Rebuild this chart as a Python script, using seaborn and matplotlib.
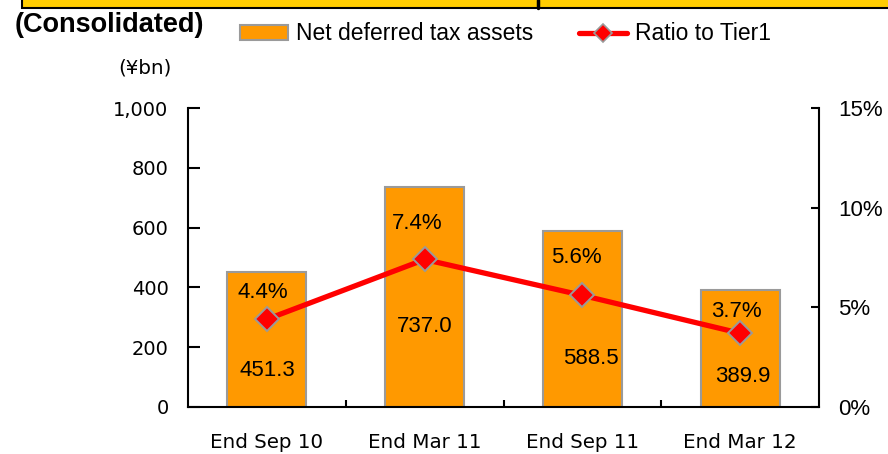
import numpy as np
import pandas as pd
import matplotlib
matplotlib.use("Agg")
import matplotlib.pyplot as plt
from matplotlib.patches import Patch, Rectangle
from matplotlib.lines import Line2D
from matplotlib.ticker import FuncFormatter, FixedLocator
import seaborn as sns

# Data
periods = ["End Sep 10", "End Mar 11", "End Sep 11", "End Mar 12"]
net_dta = [451.3, 737.0, 588.5, 389.9]          # ¥bn
ratio_tier1 = [4.4, 7.4, 5.6, 3.7]              # %
left_ticks = [0, 200, 400, 600, 800, 1000]
right_ticks = [0, 5, 10, 15]

sns.set_style("white")
plt.rcParams["font.family"] = ["DejaVu Sans"]
plt.rcParams["text.color"] = "black"
plt.rcParams["xtick.color"] = "black"
plt.rcParams["ytick.color"] = "black"
plt.rcParams["axes.labelcolor"] = "black"

BAR_COLOR = "#FF9900"
EDGE_GRAY = "#9A9A9A"
LINE_RED = "#FF0000"

df = pd.DataFrame({"period": periods, "dta": net_dta, "ratio": ratio_tier1})
df["pos"] = np.arange(len(df))

fig = plt.figure(figsize=(8.88, 4.54), dpi=100)
W, H = 888, 454
ax = fig.add_axes([188 / W, 1 - 407 / H, (819 - 188) / W, (407 - 108) / H])

sns.barplot(data=df, x="period", y="dta", color=BAR_COLOR, saturation=1,
            edgecolor=EDGE_GRAY, linewidth=1.5, width=0.5, ax=ax)
ax.set_xlim(-0.5, len(df) - 0.5)
ax.set_ylim(0, 1000)
ax.set_xlabel("")
ax.set_ylabel("")

ax2 = ax.twinx()
sns.lineplot(data=df, x="pos", y="ratio", ax=ax2, color=LINE_RED, lw=3.8,
             marker="D", markersize=12, markerfacecolor=LINE_RED,
             markeredgecolor=EDGE_GRAY, markeredgewidth=1.4, zorder=5)
ax2.set_ylim(0, 15)
ax2.set_xlim(-0.5, len(df) - 0.5)
ax2.set_xlabel("")
ax2.set_ylabel("")

# Spines
for a in (ax, ax2):
    for s in a.spines.values():
        s.set_linewidth(1.5)
        s.set_color("black")
    a.spines["top"].set_visible(False)
ax.spines["right"].set_visible(False)
ax2.spines["left"].set_visible(False)
ax2.spines["bottom"].set_visible(False)

# Left axis
ax.yaxis.set_major_locator(FixedLocator(left_ticks))
ax.yaxis.set_major_formatter(FuncFormatter(lambda v, p: f"{v:,.0f}"))
ax.tick_params(axis="y", direction="in", length=8.5, width=1.5, pad=14,
               labelsize=14, left=True, colors="black")

# Right axis
ax2.yaxis.set_major_locator(FixedLocator(right_ticks))
ax2.yaxis.set_major_formatter(FuncFormatter(lambda v, p: f"{v:.0f}%"))
ax2.tick_params(axis="y", direction="in", length=6, width=1.5, pad=14,
                labelsize=16, right=True, colors="black")
for t in ax2.get_yticklabels():
    t.set_fontfamily("Liberation Sans")

# X axis: separators between categories, labels at category centres
n = len(df)
ax.xaxis.set_major_locator(FixedLocator(np.arange(n - 1) + 0.5))
ax.xaxis.set_minor_locator(FixedLocator(np.arange(n)))
ax.set_xticklabels([], minor=False)
ax.set_xticklabels(periods, minor=True)
ax.tick_params(axis="x", which="major", direction="in", length=5, width=1.5,
               bottom=True, labelbottom=False, colors="black")
ax.tick_params(axis="x", which="minor", length=0, pad=19, labelsize=14.3,
               bottom=True, labelbottom=True, colors="black")
ax2.tick_params(axis="x", which="both", bottom=False, labelbottom=False,
                top=False, labeltop=False)

# Value labels inside the bars (offsets from the bar base, in points)
bar_dx = [0, 0, 6, 2]
bar_dy = [26, 58, 35, 22]
for i, v in enumerate(net_dta):
    ax.annotate(f"{v:.1f}", xy=(i, 0), xytext=(bar_dx[i], bar_dy[i]),
                textcoords="offset points", ha="center", va="center",
                fontsize=16, family="Liberation Sans", color="black", zorder=6)

# Ratio labels above the markers
pct_dx = [-3, -5, -4, -3]
pct_dy = [19, 26, 27, 16]
for i, r in enumerate(ratio_tier1):
    ax2.annotate(f"{r:.1f}%", xy=(i, r), xytext=(pct_dx[i], pct_dy[i]),
                 textcoords="offset points", ha="center", va="center",
                 fontsize=16, family="Liberation Sans", color="black", zorder=6)

# Header band
fig.add_artist(Rectangle((22 / W, 1 - 8 / H), 1.0, 12 / H, transform=fig.transFigure,
                         facecolor="#FFCC00", edgecolor="black", lw=1.5,
                         clip_on=False))
fig.add_artist(Line2D([538 / W, 538 / W], [1 - 8 / H, 1.0], transform=fig.transFigure,
                      color="black", lw=2.5))

fig.text(15 / W, 1 - 25 / H, "(Consolidated)", ha="left", va="center",
         fontsize=19.5, fontweight="bold", family="Liberation Sans", color="black")
fig.text(145 / W, 1 - 68 / H, "(¥bn)", ha="center", va="center", fontsize=14.3,
         color="black")

handles = [Patch(facecolor=BAR_COLOR, edgecolor=EDGE_GRAY, linewidth=1.5),
           Line2D([0], [0], color=LINE_RED, lw=3.8, marker="D", markersize=9,
                  markerfacecolor=LINE_RED, markeredgecolor=EDGE_GRAY,
                  markeredgewidth=1.2)]
fig.legend(handles, ["Net deferred tax assets", "Ratio to Tier1"],
           loc="center left", bbox_to_anchor=(240 / W, 1 - 34 / H), ncol=2,
           frameon=False, prop={"family": "Liberation Sans", "size": 16.5},
           handlelength=2.1, handleheight=0.6, handletextpad=0.35,
           columnspacing=2.0, borderpad=0, borderaxespad=0, labelcolor="black")

fig.savefig("out.png", dpi=100)
